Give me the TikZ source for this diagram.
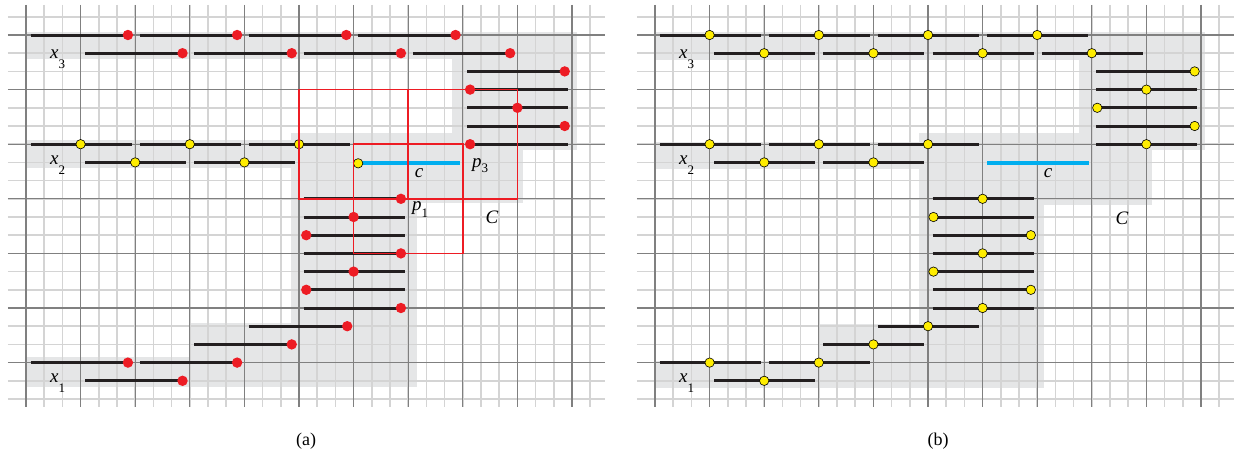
\documentclass[tikz,border=0pt]{standalone}
\usepackage{fontspec}
\setmainfont{Liberation Serif}
\definecolor{segc}{RGB}{35,31,32}
\definecolor{cblue}{RGB}{0,174,239}
\definecolor{rdc}{RGB}{237,28,36}
\definecolor{ylc}{RGB}{255,237,0}
\definecolor{shadec}{RGB}{229,230,231}
\definecolor{minorc}{RGB}{212,212,212}
\definecolor{majorc}{RGB}{128,128,128}
\tikzset{
  region/.style={fill=shadec},
  minorl/.style={draw=minorc, line width=1.5pt},
  majorl/.style={draw=majorc, line width=1.1pt},
  seg/.style={draw=segc, line width=3pt},
  cseg/.style={draw=cblue, line width=4pt},
  rdot/.style={fill=rdc},
  ydot/.style={fill=ylc, draw=black, line width=0.6pt},
  rbox/.style={draw=rdc, line width=1.6pt},
  lbl/.style={font=\fontsize{19}{19}\selectfont\itshape, inner sep=0pt, anchor=base west},
  captxt/.style={font=\fontsize{18}{18}\selectfont, inner sep=0pt},
}
\newcommand\drawgrid{%
 \foreach \xx in {0,...,31} \draw[minorl] (\xx,-1.65) -- (\xx,20.45);
 \foreach \yy in {-1,...,20} \draw[minorl] (-1,\yy) -- (31.8,\yy);
 \foreach \xx in {0,3,...,30} \draw[majorl] (\xx,-1.65) -- (\xx,20.45);
 \foreach \yy in {0,3,...,18} \draw[majorl] (-1,\yy) -- (31.8,\yy);
}
\newcommand\rdt[2]{\fill[rdot] (#1,#2) circle (5.2pt);}
\newcommand\ydt[2]{\filldraw[ydot] (#1,#2) circle (4.7pt);}
\newcommand\sbs[2]{\raisebox{-#1pt}{\upshape\fontsize{13}{13}\selectfont #2}}
\begin{document}
\begin{tikzpicture}[x=1pt,y=-1pt]
\useasboundingbox (0,0) rectangle (1238,461);
% ================= panel (a)
\begin{scope}[shift={(26pt,-35pt)}, x=18.2pt, y=-18.2pt]
 \fill[region] (0,-0.15) rectangle (30.25,1.34);
 \fill[region] (23.4,-0.15) rectangle (30.25,6.33);
 \fill[region] (0,5.77) rectangle (14.55,7.33);
 \fill[region] (14.55,5.37) rectangle (27.3,9.25);
 \fill[region] (14.55,5.37) rectangle (21.47,19.36);
 \fill[region] (9,15.8) rectangle (21.47,19.36);
 \fill[region] (0,17.7) rectangle (9,19.36);
 \drawgrid
 % x3 rows
 \foreach \k in {0,...,3} {\draw[seg] (6*\k+0.25,0) -- (6*\k+5.8,0); \rdt{6*\k+5.6}{0}}
 \foreach \k in {0,...,3} {\draw[seg] (6*\k+3.25,1) -- (6*\k+8.8,1); \rdt{6*\k+8.6}{1}}
 % right stack
 \foreach \yy in {2,...,6} \draw[seg] (24.25,\yy) -- (29.8,\yy);
 \rdt{29.6}{2} \rdt{24.4}{3} \rdt{27}{4} \rdt{29.6}{5} \rdt{24.4}{6}
 % x2 rows
 \foreach \k in {0,...,2} {\draw[seg] (6*\k+0.25,6) -- (6*\k+5.8,6); \ydt{6*\k+3}{6}}
 \foreach \k in {0,...,1} {\draw[seg] (6*\k+3.25,7) -- (6*\k+8.8,7); \ydt{6*\k+6}{7}}
 \draw[cseg] (18.25,7.05) -- (23.85,7.05);
 \ydt{18.25}{7.05}
 % lower stack
 \foreach \yy in {9,...,15} \draw[seg] (15.25,\yy) -- (20.8,\yy);
 \rdt{20.6}{9} \rdt{18}{10} \rdt{15.4}{11} \rdt{20.6}{12} \rdt{18}{13} \rdt{15.4}{14} \rdt{20.6}{15}
 % staircase
 \draw[seg] (12.25,16) -- (17.8,16); \rdt{17.65}{16}
 \draw[seg] (9.25,17) -- (14.8,17); \rdt{14.6}{17}
 \foreach \k in {0,1} {\draw[seg] (6*\k+0.25,18) -- (6*\k+5.8,18); \rdt{6*\k+5.6}{18}}
 \draw[seg] (3.25,19) -- (8.8,19); \rdt{8.6}{19}
 % red squares
 \draw[rbox] (15,3) -- (21,3) -- (21,9) -- (15,9) -- cycle;
 \draw[rbox] (21,3) -- (27,3) -- (27,9) -- (21,9) -- cycle;
 \draw[rbox] (18,6) -- (24,6) -- (24,12) -- (18,12) -- cycle;
\end{scope}
\node[lbl] (ax3) at (50,58) {x\sbs{10}{3}};
\node[lbl] (ax2) at (50,164) {x\sbs{10}{2}};
\node[lbl] (ax1) at (50,382) {x\sbs{10}{1}};
\node[lbl, anchor=base] (ac) at (419,177) {c};
\node[lbl, anchor=base] (aC) at (492,223) {C};
\node[lbl] (ap3) at (472,167) {p\sbs{5}{3}};
\node[lbl] (ap1) at (412,210) {p\sbs{7}{1}};
\node[captxt] (capa) at (306,441) {(a)};
% ================= panel (b)
\begin{scope}[shift={(655pt,-35pt)}, x=18.2pt, y=-18.2pt]
 \fill[region] (0,-0.15) rectangle (30.2,1.37);
 \fill[region] (23.3,-0.15) rectangle (30.2,6.32);
 \fill[region] (0,5.86) rectangle (14.5,7.38);
 \fill[region] (14.5,5.4) rectangle (27.3,9.34);
 \fill[region] (14.5,5.4) rectangle (21.4,19.42);
 \fill[region] (9,15.88) rectangle (21.4,19.42);
 \fill[region] (0,17.9) rectangle (9,19.42);
 \drawgrid
 \foreach \k in {0,...,3} {\draw[seg] (6*\k+0.25,0) -- (6*\k+5.8,0); \ydt{6*\k+3}{0}}
 \foreach \k in {0,...,3} {\draw[seg] (6*\k+3.25,1) -- (6*\k+8.8,1); \ydt{6*\k+6}{1}}
 \foreach \yy in {2,...,6} \draw[seg] (24.25,\yy) -- (29.8,\yy);
 \ydt{29.65}{2} \ydt{27}{3} \ydt{24.3}{4} \ydt{29.65}{5} \ydt{27}{6}
 \foreach \k in {0,...,2} {\draw[seg] (6*\k+0.25,6) -- (6*\k+5.8,6); \ydt{6*\k+3}{6}}
 \foreach \k in {0,...,1} {\draw[seg] (6*\k+3.25,7) -- (6*\k+8.8,7); \ydt{6*\k+6}{7}}
 \draw[cseg] (18.25,7.05) -- (23.85,7.05);
 \foreach \yy in {9,...,15} \draw[seg] (15.25,\yy) -- (20.8,\yy);
 \ydt{18}{9} \ydt{15.3}{10} \ydt{20.65}{11} \ydt{18}{12} \ydt{15.3}{13} \ydt{20.65}{14} \ydt{18}{15}
 \draw[seg] (12.25,16) -- (17.8,16); \ydt{15}{16}
 \draw[seg] (9.25,17) -- (14.8,17); \ydt{12}{17}
 \foreach \k in {0,1} {\draw[seg] (6*\k+0.25,18) -- (6*\k+5.8,18); \ydt{6*\k+3}{18}}
 \draw[seg] (3.25,19) -- (8.8,19); \ydt{6}{19}
\end{scope}
\node[lbl] (bx3) at (679,58) {x\sbs{10}{3}};
\node[lbl] (bx2) at (679,164) {x\sbs{10}{2}};
\node[lbl] (bx1) at (679,382) {x\sbs{10}{1}};
\node[lbl, anchor=base] (bc) at (1048,177) {c};
\node[lbl, anchor=base] (bC) at (1122,224) {C};
\node[captxt] (capb) at (938,441) {(b)};
\end{tikzpicture}
\end{document}
